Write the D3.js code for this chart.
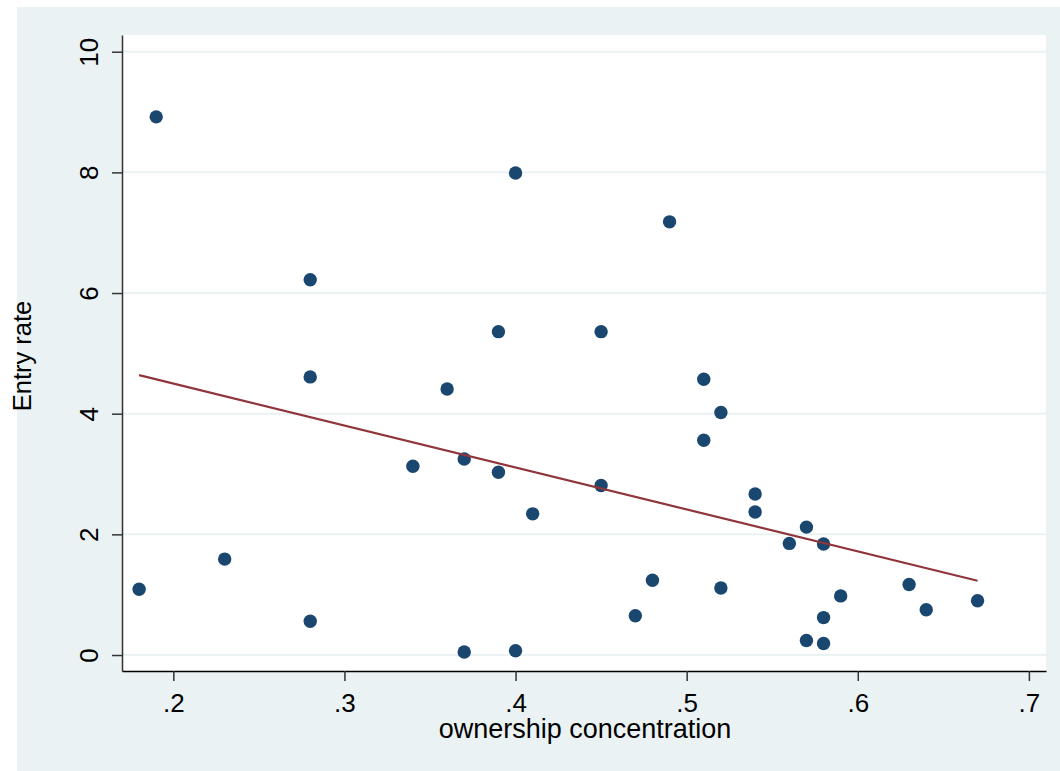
<!DOCTYPE html>
<html>
<head>
<meta charset="utf-8">
<script src="https://cdn.jsdelivr.net/npm/d3@7"></script>
<style>
  body { margin: 0; background: #fff; }
  text { font-family: "Liberation Sans", Arial, sans-serif; fill: #000; }
</style>
</head>
<body>
<div id="chart"></div>
<script>
// data
const ownership = [0.18, 0.19, 0.23, 0.28, 0.28, 0.28, 0.34, 0.36, 0.37, 0.37, 0.39, 0.39,
  0.40, 0.40, 0.41, 0.45, 0.45, 0.47, 0.48, 0.49, 0.51, 0.51, 0.52, 0.52, 0.54, 0.54,
  0.56, 0.57, 0.57, 0.58, 0.58, 0.58, 0.59, 0.63, 0.64, 0.67];
const entryRate = [1.09, 8.92, 1.59, 6.22, 4.61, 0.56, 3.13, 4.41, 3.25, 0.05, 5.36, 3.03,
  7.99, 0.07, 2.34, 5.36, 2.81, 0.65, 1.24, 7.18, 4.57, 3.56, 4.02, 1.11, 2.67, 2.37,
  1.85, 2.12, 0.24, 1.84, 0.62, 0.19, 0.98, 1.17, 0.75, 0.90];
// fitted line end points
const fitX = [0.18, 0.67];
const fitY = [4.64, 1.23];
const xTicks = [0.2, 0.3, 0.4, 0.5, 0.6, 0.7];
const yTicks = [0, 2, 4, 6, 8, 10];

const width = 1060, height = 771;
const plot = { left: 122, right: 1046, top: 35, bottom: 671 };

const svg = d3.select("#chart")
  .append("svg")
  .attr("width", width)
  .attr("height", height);

// outer graph region
svg.append("rect")
  .attr("x", 17).attr("y", 7)
  .attr("width", width - 17).attr("height", height - 7)
  .attr("fill", "#eaf2f3");

// plot region
svg.append("rect")
  .attr("x", plot.left).attr("y", plot.top)
  .attr("width", plot.right - plot.left).attr("height", plot.bottom - plot.top)
  .attr("fill", "#fff");

const x = d3.scaleLinear().domain([0.17, 0.71]).range([plot.left, plot.right]);
const y = d3.scaleLinear().domain([-0.265, 10.277]).range([plot.bottom, plot.top]);

// grid lines
svg.append("g")
  .selectAll("line")
  .data(yTicks)
  .join("line")
  .attr("x1", plot.left).attr("x2", plot.right)
  .attr("y1", d => y(d)).attr("y2", d => y(d))
  .attr("stroke", "#eaf2f3")
  .attr("stroke-width", 2);

// x axis
const fmt = d => d3.format(".1f")(d).replace(/^0/, "");
const gx = svg.append("g")
  .attr("transform", `translate(0,${plot.bottom})`)
  .call(d3.axisBottom(x).tickValues(xTicks).tickFormat(fmt).tickSize(10).tickSizeOuter(0));
gx.select(".domain").attr("stroke", "#000").attr("stroke-width", 1.5);
gx.selectAll(".tick line").attr("stroke", "#333").attr("stroke-width", 1.5);
gx.selectAll(".tick text")
  .attr("y", 41).attr("dy", 0)
  .style("font-size", "26px");

// y axis
const gy = svg.append("g")
  .attr("transform", `translate(${plot.left},0)`)
  .call(d3.axisLeft(y).tickValues(yTicks).tickSize(10).tickSizeOuter(0));
gy.select(".domain").attr("stroke", "#333").attr("stroke-width", 1.5);
gy.selectAll(".tick line").attr("stroke", "#333").attr("stroke-width", 1.5);
gy.selectAll(".tick text")
  .attr("transform", "rotate(-90)")
  .attr("x", 0).attr("y", -24).attr("dy", 0)
  .attr("text-anchor", "middle")
  .style("font-size", "26px");

// axis titles
svg.append("text")
  .attr("x", (plot.left + plot.right) / 2 + 1)
  .attr("y", 738)
  .attr("text-anchor", "middle")
  .style("font-size", "27px")
  .text("ownership concentration");

svg.append("text")
  .attr("transform", `translate(31,${(plot.top + plot.bottom) / 2 + 3}) rotate(-90)`)
  .attr("text-anchor", "middle")
  .style("font-size", "25.5px")
  .text("Entry rate");

// points
svg.append("g")
  .selectAll("circle")
  .data(ownership.map((d, i) => ({ x: d, y: entryRate[i] })))
  .join("circle")
  .attr("cx", d => x(d.x))
  .attr("cy", d => y(d.y))
  .attr("r", 6.7)
  .attr("fill", "#1a476f");

// fitted line
svg.append("path")
  .datum(fitX.map((d, i) => ({ x: d, y: fitY[i] })))
  .attr("fill", "none")
  .attr("stroke", "#90353b")
  .attr("stroke-width", 2.2)
  .attr("d", d3.line().x(d => x(d.x)).y(d => y(d.y)));
</script>
</body>
</html>
